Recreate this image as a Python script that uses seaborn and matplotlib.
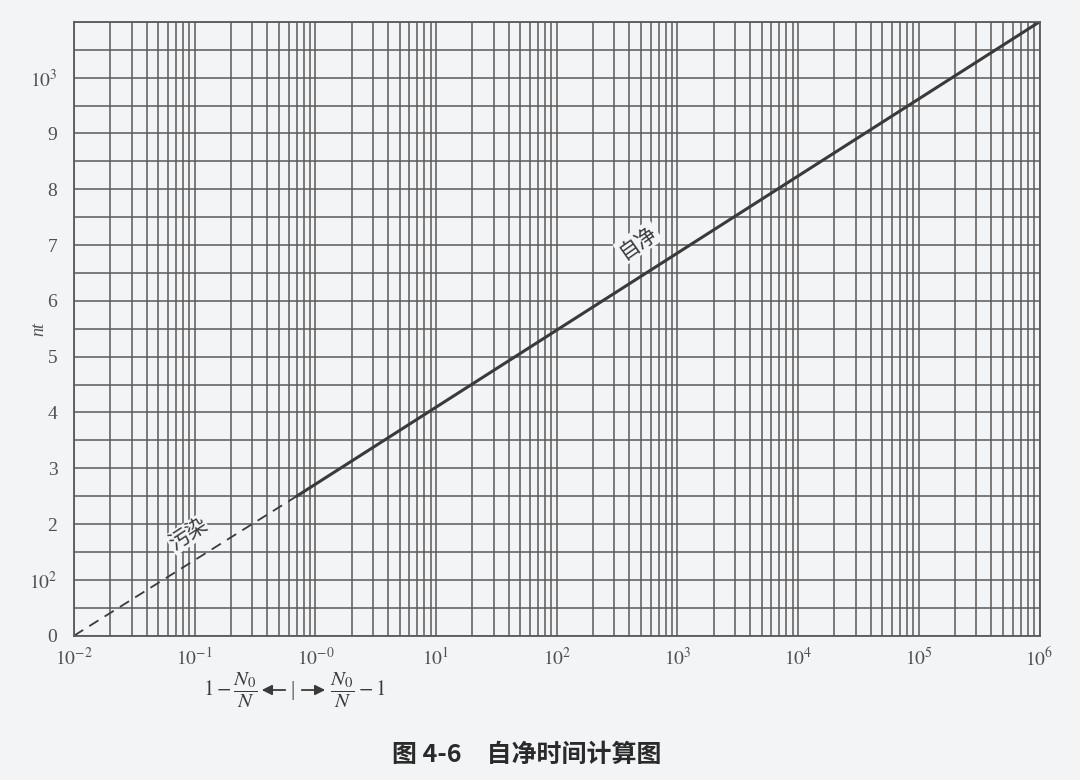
import numpy as np
import matplotlib
matplotlib.use("Agg")
import matplotlib.pyplot as plt
import matplotlib.ticker as mticker
import seaborn as sns

# 曲线数据
polluted_x = [0.01, 0.7]
polluted_nt = [0, 250]
purify_x = [0.7, 1e6]
purify_nt = [250, 1100]

# 坐标轴刻度
x_ticks = [1e-2, 1e-1, 1e0, 1e1, 1e2, 1e3, 1e4, 1e5, 1e6]
x_tick_labels = [r"$10^{-2}$", r"$10^{-1}$", r"$10^{-0}$", r"$10^{1}$", r"$10^{2}$",
                 r"$10^{3}$", r"$10^{4}$", r"$10^{5}$", r"$10^{6}$"]
y_ticks = [0, 100, 200, 300, 400, 500, 600, 700, 800, 900, 1000]
y_tick_labels = ["0", r"$10^{2}$", "2", "3", "4", "5", "6", "7", "8", "9", r"$10^{3}$"]

sns.set_theme(style="white")
plt.rcParams["font.family"] = ["Liberation Serif", "Noto Sans CJK SC", "DejaVu Sans"]
plt.rcParams["mathtext.fontset"] = "stix"

paper = "#f3f4f6"
ink = "#3a3a3a"
grid_col = "#5a5a5a"

fig = plt.figure(figsize=(10.8, 7.8), dpi=100, facecolor=paper)
ax = fig.add_axes([0.0685, 0.185, 0.894, 0.787])
ax.set_facecolor(paper)

# 曲线：污染段（虚线）与自净段（实线）
sns.lineplot(x=polluted_x, y=polluted_nt, ax=ax, color=ink, linewidth=1.3,
             linestyle=(0, (6, 4)), sort=False)
sns.lineplot(x=purify_x, y=purify_nt, ax=ax, color=ink, linewidth=2.2, sort=False)

ax.set_xscale("log")
ax.set_xlim(1e-2, 1e6)
ax.set_ylim(0, 1100)

# 网格
ax.xaxis.set_major_locator(mticker.FixedLocator(x_ticks))
ax.xaxis.set_minor_locator(mticker.LogLocator(base=10, subs=np.arange(2, 10), numticks=100))
ax.xaxis.set_minor_formatter(mticker.NullFormatter())
ax.set_xticks(x_ticks)
ax.set_xticklabels(x_tick_labels)
ax.set_yticks(y_ticks)
ax.set_yticklabels(y_tick_labels)
ax.yaxis.set_minor_locator(mticker.MultipleLocator(50))
ax.grid(True, which="both", color=grid_col, linewidth=1.1)
ax.set_axisbelow(True)
for s in ax.spines.values():
    s.set_color(grid_col)
    s.set_linewidth(1.3)
ax.tick_params(axis="both", which="both", length=0, labelsize=14, labelcolor="#505050")
ax.tick_params(axis="x", pad=8)
ax.tick_params(axis="y", pad=12)

ax.set_ylabel("nt", fontstyle="italic", fontsize=13, color="#505050")
ax.yaxis.set_label_coords(-0.028, 0.5)

# 曲线标注
ax.text(0.088, 182, "污染", rotation=33, ha="center", va="center", fontsize=15,
        color=ink, family=["Noto Sans CJK SC"],
        bbox=dict(facecolor=paper, edgecolor="none", pad=0.5))
ax.text(470, 705, "自净", rotation=35, ha="center", va="center", fontsize=15,
        color=ink, family=["Noto Sans CJK SC"],
        bbox=dict(facecolor=paper, edgecolor="none", pad=1))

# 横坐标说明
yy = 1 - 690 / 780
fig.text(258 / 1080, yy, r"$1-\dfrac{N_0}{N}$", ha="right", va="center",
         fontsize=15, color=ink)
fig.text(330 / 1080, yy, r"$\dfrac{N_0}{N}-1$", ha="left", va="center",
         fontsize=15, color=ink)
fig.text(293 / 1080, yy, "|", ha="center", va="center", fontsize=15, color=ink)
ax.annotate("", xy=(259 / 1080, yy), xytext=(288 / 1080, yy), xycoords="figure fraction",
            arrowprops=dict(arrowstyle="-|>", color=ink, lw=1.3, mutation_scale=15))
ax.annotate("", xy=(328 / 1080, yy), xytext=(299 / 1080, yy), xycoords="figure fraction",
            arrowprops=dict(arrowstyle="-|>", color=ink, lw=1.3, mutation_scale=15))

# 图题
fig.text(0.488, 1 - 755 / 780, "图 4-6　自净时间计算图", ha="center", va="center",
         fontsize=18, fontweight="bold", color="#2a2a2a", family=["Noto Sans CJK SC"])

fig.savefig("out.png", dpi=100, facecolor=paper)
